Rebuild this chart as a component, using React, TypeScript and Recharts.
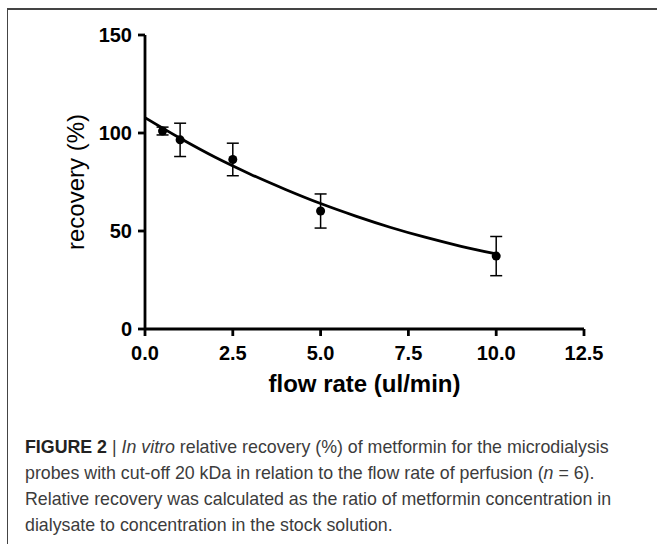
import React from 'react';
import {
  ComposedChart,
  Line,
  Scatter,
  ErrorBar,
  XAxis,
  YAxis,
} from 'recharts';

// measured recovery (%) at each flow rate, mean ± SD
const flowRates = [0.5, 1, 2.5, 5, 10];
const recoveryMeans = [101, 96.5, 86.5, 60.2, 37.2];
const recoverySd = [2, 8.5, 8.3, 8.7, 10];

// fitted curve
const fitX = [0, 1, 2, 3, 4, 5, 6, 7, 8, 9, 10];
const fitY = [107.8, 97.3, 87.6, 79, 71.2, 64, 57.6, 51.8, 46.7, 42.2, 38.3];

const xTicks = [0, 2.5, 5, 7.5, 10, 12.5];
const yTicks = [0, 50, 100, 150];

const points = flowRates.map((x, i) => ({ x, y: recoveryMeans[i], err: recoverySd[i] }));
const fit = fitX.map((x, i) => ({ x, y: fitY[i] }));

const FONT = '"Liberation Sans", Arial, sans-serif';
const tickStyle = { fontSize: 20, fontWeight: 700, fill: '#000', fontFamily: FONT };

const YTitle = () => (
  <text
    x={75}
    y={182}
    transform="rotate(-90 75 182)"
    textAnchor="middle"
    dominantBaseline="central"
    style={{ fontSize: 24, fontFamily: FONT, fill: '#000' }}
  >
    recovery (%)
  </text>
);

export default function App() {
  return (
    <div
      style={{
        position: 'absolute',
        left: 0,
        top: 0,
        width: 657,
        height: 544,
        background: '#fff',
        fontFamily: FONT,
        overflow: 'hidden',
      }}
    >
      <div
        style={{
          position: 'absolute',
          left: 7,
          top: 8,
          width: 660,
          height: 560,
          borderTop: '2px solid #444',
          borderLeft: '1.5px solid #444',
        }}
      />
      <div style={{ position: 'absolute', left: 0, top: 0 }}>
        <ComposedChart
          width={657}
          height={400}
          margin={{ top: 35, right: 73, left: 0, bottom: 0 }}
        >
          <XAxis
            dataKey="x"
            type="number"
            domain={[0, 12.5]}
            ticks={xTicks}
            interval={0}
            tickFormatter={(v: number) => v.toFixed(1)}
            height={71}
            tickSize={7}
            tickMargin={10}
            stroke="#000"
            strokeWidth={2.8}
            tick={tickStyle}
            allowDataOverflow
            label={{
              value: 'flow rate (ul/min)',
              position: 'insideBottom',
              offset: 8,
              style: { fontSize: 24, fontWeight: 700, fill: '#000', fontFamily: FONT },
            }}
          />
          <YAxis
            type="number"
            domain={[0, 150]}
            ticks={yTicks}
            interval={0}
            width={145}
            tickSize={7}
            tickMargin={6}
            stroke="#000"
            strokeWidth={2.8}
            tick={tickStyle}
            allowDataOverflow
            label={YTitle}
          />
          <Line
            data={fit}
            dataKey="y"
            type="monotone"
            stroke="#000"
            strokeWidth={2.8}
            dot={false}
            activeDot={false}
            isAnimationActive={false}
          />
          <Scatter data={points} dataKey="y" fill="#000" isAnimationActive={false}>
            <ErrorBar dataKey="err" direction="y" width={6} stroke="#000" strokeWidth={1.5} />
          </Scatter>
        </ComposedChart>
      </div>
      <div
        style={{
          position: 'absolute',
          left: 25,
          top: 434,
          fontSize: 17.8,
          lineHeight: '26px',
          color: '#3c3c3c',
          whiteSpace: 'nowrap',
        }}
      >
        <b style={{ color: '#222' }}>FIGURE 2</b> | <i>In vitro</i> relative recovery (%) of metformin for the microdialysis
        <br />
        probes with cut-off 20 kDa in relation to the flow rate of perfusion (<i>n</i> = 6).
        <br />
        Relative recovery was calculated as the ratio of metformin concentration in
        <br />
        dialysate to concentration in the stock solution.
      </div>
    </div>
  );
}
